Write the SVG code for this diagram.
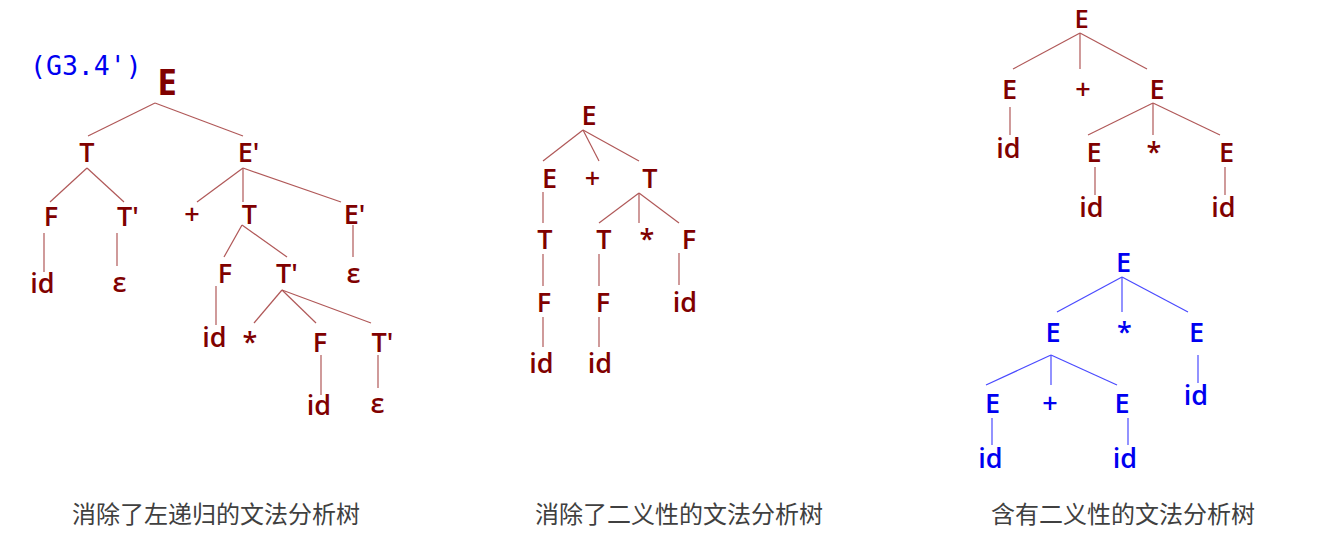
<svg xmlns="http://www.w3.org/2000/svg" width="1343" height="542" viewBox="0 0 1343 542">
<style>
.r{font-family:"Open Sans","DejaVu Sans",sans-serif;font-weight:600;font-size:27px;fill:#800000;text-anchor:middle}
.b{font-family:"Open Sans","DejaVu Sans",sans-serif;font-weight:600;font-size:27px;fill:#0000f0;text-anchor:middle}
.big{font-size:35px;font-weight:700}
.top{font-size:25.5px}
.lr line{stroke:#b05858;stroke-width:1.2}
.lb line{stroke:#4a4aff;stroke-width:1.2}
.cap{font-family:"Noto Sans CJK SC","Noto Sans",sans-serif;font-size:24px;fill:#404040}
</style>
<rect width="1343" height="542" fill="#ffffff"/>
<text id="g34" x="30" y="75" font-family="DejaVu Sans Mono,monospace" font-size="26.5" fill="#0000f0">(G3.4')</text>

<g id="connectors">
<g class="lr">
<line x1="155" y1="103" x2="88" y2="136"/>
<line x1="155" y1="103" x2="243" y2="136"/>
<line x1="87" y1="168" x2="50" y2="202"/>
<line x1="87" y1="168" x2="124" y2="202"/>
<line x1="243" y1="168" x2="197" y2="202"/>
<line x1="243" y1="168" x2="243" y2="202"/>
<line x1="243" y1="168" x2="341" y2="202"/>
<line x1="44" y1="233" x2="44" y2="272"/>
<line x1="117" y1="233" x2="117" y2="266"/>
<line x1="242" y1="225" x2="224" y2="257"/>
<line x1="242" y1="225" x2="287" y2="257"/>
<line x1="353" y1="225" x2="353" y2="257"/>
<line x1="216" y1="286" x2="216" y2="325"/>
<line x1="282" y1="290" x2="254" y2="323"/>
<line x1="282" y1="290" x2="316" y2="323"/>
<line x1="282" y1="290" x2="371" y2="323"/>
<line x1="321" y1="355" x2="321" y2="395"/>
<line x1="378" y1="355" x2="378" y2="388"/>

<line x1="583" y1="130" x2="543" y2="161"/>
<line x1="583" y1="130" x2="599" y2="161"/>
<line x1="583" y1="130" x2="639" y2="161"/>
<line x1="543" y1="192" x2="543" y2="223"/>
<line x1="639" y1="193" x2="599" y2="223"/>
<line x1="639" y1="193" x2="639" y2="223"/>
<line x1="639" y1="193" x2="679" y2="223"/>
<line x1="543" y1="254" x2="543" y2="286"/>
<line x1="599" y1="254" x2="599" y2="286"/>
<line x1="679" y1="253" x2="679" y2="285"/>
<line x1="543" y1="317" x2="543" y2="347"/>
<line x1="599" y1="317" x2="599" y2="347"/>

<line x1="1080" y1="33" x2="1013" y2="69"/>
<line x1="1080" y1="33" x2="1080" y2="69"/>
<line x1="1080" y1="33" x2="1147" y2="69"/>
<line x1="1010" y1="107" x2="1010" y2="135"/>
<line x1="1153" y1="103" x2="1088" y2="135"/>
<line x1="1153" y1="103" x2="1153" y2="135"/>
<line x1="1153" y1="103" x2="1220" y2="135"/>
<line x1="1095" y1="167" x2="1095" y2="195"/>
<line x1="1225" y1="167" x2="1225" y2="195"/>
</g>
<g class="lb">
<line x1="1122" y1="277" x2="1057" y2="312"/>
<line x1="1122" y1="277" x2="1122" y2="312"/>
<line x1="1122" y1="277" x2="1188" y2="312"/>
<line x1="1198" y1="355" x2="1198" y2="383"/>
<line x1="1051" y1="355" x2="986" y2="385"/>
<line x1="1051" y1="355" x2="1051" y2="385"/>
<line x1="1051" y1="355" x2="1117" y2="385"/>
<line x1="992" y1="418" x2="992" y2="445"/>
<line x1="1128" y1="418" x2="1128" y2="445"/>
</g>
</g>

<g id="tree1">
<text class="r big" x="167" y="95">E</text>
<text class="r" x="87" y="162">T</text>
<text class="r" x="248.5" y="162">E'</text>
<text class="r" x="51" y="226">F</text>
<text class="r" x="128" y="226">T'</text>
<text class="r" x="192" y="224">+</text>
<text class="r" x="249.5" y="224">T</text>
<text class="r" x="354.5" y="224">E'</text>
<text class="r" x="42.5" y="293">id</text>
<text class="r" x="119.5" y="292">ε</text>
<text class="r" x="225" y="283">F</text>
<text class="r" x="287" y="283">T'</text>
<text class="r" x="353.5" y="283">ε</text>
<text class="r" x="214.5" y="347">id</text>
<text class="r" x="250" y="352">*</text>
<text class="r" x="320" y="352">F</text>
<text class="r" x="382.5" y="352">T'</text>
<text class="r" x="319" y="415">id</text>
<text class="r" x="377.5" y="413">ε</text>
</g>

<g id="tree2">
<text class="r" x="589" y="125">E</text>
<text class="r" x="549.5" y="188">E</text>
<text class="r" x="592.5" y="188">+</text>
<text class="r" x="650" y="188">T</text>
<text class="r" x="545" y="249">T</text>
<text class="r" x="604" y="249">T</text>
<text class="r" x="647" y="249">*</text>
<text class="r" x="689" y="249">F</text>
<text class="r" x="544" y="312">F</text>
<text class="r" x="603" y="312">F</text>
<text class="r" x="685" y="312">id</text>
<text class="r" x="541.5" y="373">id</text>
<text class="r" x="600" y="373">id</text>
</g>

<g id="tree3">
<text class="r top" x="1081.5" y="27.5">E</text>
<text class="r" x="1009.5" y="99">E</text>
<text class="r" x="1083" y="99">+</text>
<text class="r" x="1157" y="99">E</text>
<text class="r" x="1008.5" y="158">id</text>
<text class="r" x="1094" y="162">E</text>
<text class="r" x="1154" y="162">*</text>
<text class="r" x="1226.5" y="162">E</text>
<text class="r" x="1091.5" y="217">id</text>
<text class="r" x="1223.5" y="217">id</text>
</g>

<g id="tree4">
<text class="b" x="1123.5" y="272">E</text>
<text class="b" x="1053" y="342">E</text>
<text class="b" x="1124.5" y="342">*</text>
<text class="b" x="1196.5" y="342">E</text>
<text class="b" x="1196" y="405">id</text>
<text class="b" x="992.5" y="413">E</text>
<text class="b" x="1050" y="413">+</text>
<text class="b" x="1122" y="413">E</text>
<text class="b" x="990.5" y="468">id</text>
<text class="b" x="1125" y="468">id</text>
</g>

<g id="captions">
<text class="cap" x="72" y="523">消除了左递归的文法分析树</text>
<text class="cap" x="535" y="523">消除了二义性的文法分析树</text>
<text class="cap" x="991" y="523">含有二义性的文法分析树</text>
</g>
</svg>
